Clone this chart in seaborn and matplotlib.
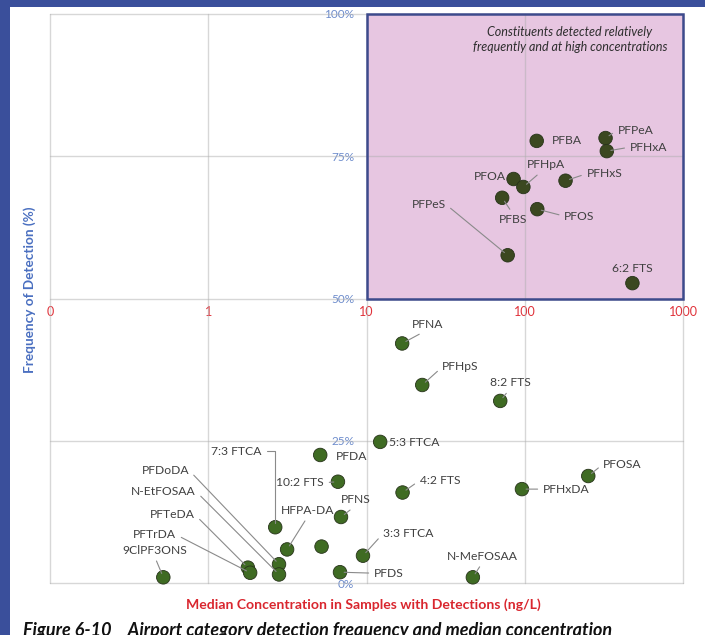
import matplotlib
matplotlib.use("Agg")
import matplotlib.pyplot as plt
from matplotlib.patches import Rectangle
from matplotlib.ticker import NullLocator
import numpy as np
import pandas as pd
import seaborn as sns

# ---- data -------------------------------------------------------------
names = ["PFBA", "PFPeA", "PFHxA", "PFOA", "PFHpA", "PFHxS", "PFBS", "PFOS",
         "PFPeS", "6:2 FTS", "PFNA", "PFHpS", "8:2 FTS", "5:3 FTCA", "PFOSA",
         "PFHxDA", "4:2 FTS", "3:3 FTCA", "N-MeFOSAA", "PFDS", "PFNS", "PFDA",
         "10:2 FTS", "HFPA-DA", "", "7:3 FTCA", "PFDoDA", "N-EtFOSAA",
         "PFTeDA", "PFTrDA", "9ClPF3ONS"]
median_conc = [119, 324, 330, 85, 98, 181, 72, 120,
               78, 479, 16.8, 22.5, 70, 12.2, 252,
               96, 16.9, 9.5, 47, 6.8, 6.9, 5.1,
               6.6, 3.15, 5.2, 2.65, 2.8, 2.8,
               1.78, 1.84, 0.52]
detect_freq = [77.7, 78.2, 75.9, 71.0, 69.6, 70.7, 67.7, 65.7,
               57.6, 52.7, 42.1, 34.8, 32.0, 24.8, 18.8,
               16.5, 15.9, 4.8, 1.0, 1.9, 11.6, 22.5,
               17.8, 5.9, 6.4, 9.8, 3.3, 1.5,
               2.7, 1.8, 1.0]

x_ticks = [0.1, 1, 10, 100, 1000]
x_tick_labels = ["0", "1", "10", "100", "1000"]
y_ticks = [0, 25, 50, 75, 100]
y_tick_labels = ["0%", "25%", "50%", "75%", "100%"]

# label placement: offset in pixels (dx, dy up), alignment, leader anchor on text
label_layout = {
    "PFBA":      (15, 0, "left", None),
    "PFPeA":     (12, 8, "left", (0, 0.5)),
    "PFHxA":     (23, 4, "left", (0, 0.5)),
    "PFOA":      (-8, 3, "right", None),
    "PFHpA":     (23, 22, "center", (0.4, 0)),
    "PFHxS":     (21, 7, "left", (0, 0.5)),
    "PFBS":      (11, -22, "center", (0.5, 1)),
    "PFOS":      (27, -7, "left", (0, 0.5)),
    "PFPeS":     (-62, 51, "right", (1, 0.5)),
    "6:2 FTS":   (0, 15, "center", None),
    "PFNA":      (25, 19, "center", (0.5, 0)),
    "PFHpS":     (20, 18, "left", (0, 0.5)),
    "8:2 FTS":   (10, 18, "center", (0.5, 0)),
    "5:3 FTCA":  (9, -1, "left", None),
    "PFOSA":     (15, 12, "left", (0, 0.5)),
    "PFHxDA":    (21, 0, "left", (0, 0.5)),
    "4:2 FTS":   (17, 12, "left", (0, 0.5)),
    "3:3 FTCA":  (20, 22, "left", (0, 0.5)),
    "N-MeFOSAA": (10, 21, "center", (0.5, 0)),
    "PFDS":      (34, -1, "left", (0, 0.5)),
    "PFNS":      (15, 17, "center", (0.5, 0)),
    "PFDA":      (16, -2, "left", None),
    "10:2 FTS":  (-14, -1, "right", (1, 0.5)),
    "HFPA-DA":   (21, 39, "center", (0.5, 0)),
    "7:3 FTCA":  (-14, 76, "right", (1, 0.5)),
    "PFDoDA":    (-90, 94, "right", (1, 0.5)),
    "N-EtFOSAA": (-83, 83, "right", (1, 0.5)),
    "PFTeDA":    (-53, 53, "right", (1, 0.5)),
    "PFTrDA":    (-74, 38, "right", (1, 0.5)),
    "9ClPF3ONS": (-9, 27, "center", (0.5, 0)),
}

df = pd.DataFrame({"name": names, "conc": median_conc, "freq": detect_freq})
df["zone"] = np.where((df["conc"] >= 10) & (df["freq"] >= 50), "high", "other")

# ---- style ------------------------------------------------------------
sns.set_style("white")
plt.rcParams["font.family"] = ["Lato", "DejaVu Sans"]

W, H = 705, 635
fig = plt.figure(figsize=(W / 100, H / 100), dpi=100)
fig.patch.set_facecolor("white")

band = "#3a4f9b"
fig.patches.append(Rectangle((0, 0), 10 / W, 1, transform=fig.transFigure,
                             facecolor=band, edgecolor="none", zorder=-5))
fig.patches.append(Rectangle((0, 1 - 7 / H), 1, 7 / H, transform=fig.transFigure,
                             facecolor=band, edgecolor="none", zorder=-5))

ax = fig.add_axes([50 / W, 1 - 583 / H, 633 / W, 569 / H])
ax.set_facecolor("white")
ax.set_xscale("log")
ax.set_xlim(0.1, 1000)
ax.set_ylim(0, 100)

# quadrant of frequent / high-concentration constituents
ax.add_patch(Rectangle((10, 50), 990, 50, facecolor="#e7c6e1",
                       edgecolor="none", zorder=0.5))
ax.add_patch(Rectangle((10, 50), 990, 50, facecolor="none",
                       edgecolor="#3d4a8c", linewidth=1.8, zorder=2.6,
                       clip_on=False))
ax.text(0.8215, 0.955,
        "Constituents detected relatively\nfrequently and at high concentrations",
        transform=ax.transAxes, ha="center", va="center", fontsize=9,
        fontstyle="italic", color="#2e2e2e", linespacing=1.25, zorder=4)

# grid
for xv in x_ticks:
    ax.axvline(xv, color="#b0b0b0", alpha=0.5, lw=1.0, zorder=1, clip_on=False)
for yv in y_ticks:
    ax.axhline(yv, color="#b0b0b0", alpha=0.5, lw=1.0, zorder=1, clip_on=False)

# points
sns.scatterplot(data=df, x="conc", y="freq", hue="zone",
                palette={"high": "#3b4820", "other": "#3f6b23"},
                s=95, edgecolor="#27331a", linewidth=0.6, legend=False,
                ax=ax, zorder=3, clip_on=False)

# axes cross at 10 ng/L and 50 %
for s in ax.spines.values():
    s.set_visible(False)
ax.spines["left"].set_position(("data", 10))
ax.spines["bottom"].set_position(("data", 50))
ax.set_xticks(x_ticks)
ax.set_xticklabels(x_tick_labels)
ax.xaxis.set_minor_locator(NullLocator())
ax.set_yticks(y_ticks)
ax.set_yticklabels(y_tick_labels)
ax.tick_params(axis="x", length=0, pad=5.5, labelsize=9, labelcolor="#e0323a")
ax.tick_params(axis="y", length=0, pad=9, labelsize=8.5, labelcolor="#6d8ccc")
ax.set_xlabel("")
ax.set_ylabel("")

# labels with leader lines
for _, row in df.iterrows():
    if not row["name"]:
        continue
    dx, dy, ha, anchor = label_layout[row["name"]]
    kw = {}
    if anchor is not None:
        conn = "arc3"
        if row["name"] == "7:3 FTCA":
            conn = "angle,angleA=0,angleB=90,rad=0"
        kw["arrowprops"] = dict(arrowstyle="-", color="#8a8a8a", lw=0.8,
                                shrinkA=1.5, shrinkB=3, relpos=anchor,
                                connectionstyle=conn)
    ax.annotate(row["name"], (row["conc"], row["freq"]),
                xytext=(dx, dy), textcoords="offset pixels",
                ha=ha, va="center", fontsize=8.7, color="#404040",
                zorder=4, annotation_clip=False, **kw)

# axis titles and caption
fig.text(363.5 / W, 1 - 605 / H,
         "Median Concentration in Samples with Detections (ng/L)",
         ha="center", va="center", fontsize=10.1, fontweight="bold",
         color="#d9262e")
fig.text(30 / W, 1 - 290 / H, "Frequency of Detection (%)",
         ha="center", va="center", rotation=90, fontsize=9.8,
         fontweight="bold", color="#4a6fc0")
fig.text(23 / W, 1 - 636 / H,
         "Figure 6-10    Airport category detection frequency and median concentration",
         ha="left", va="baseline", fontsize=13, fontweight="bold",
         fontstyle="italic", color="#111111")

fig.savefig("out.png", dpi=100)
